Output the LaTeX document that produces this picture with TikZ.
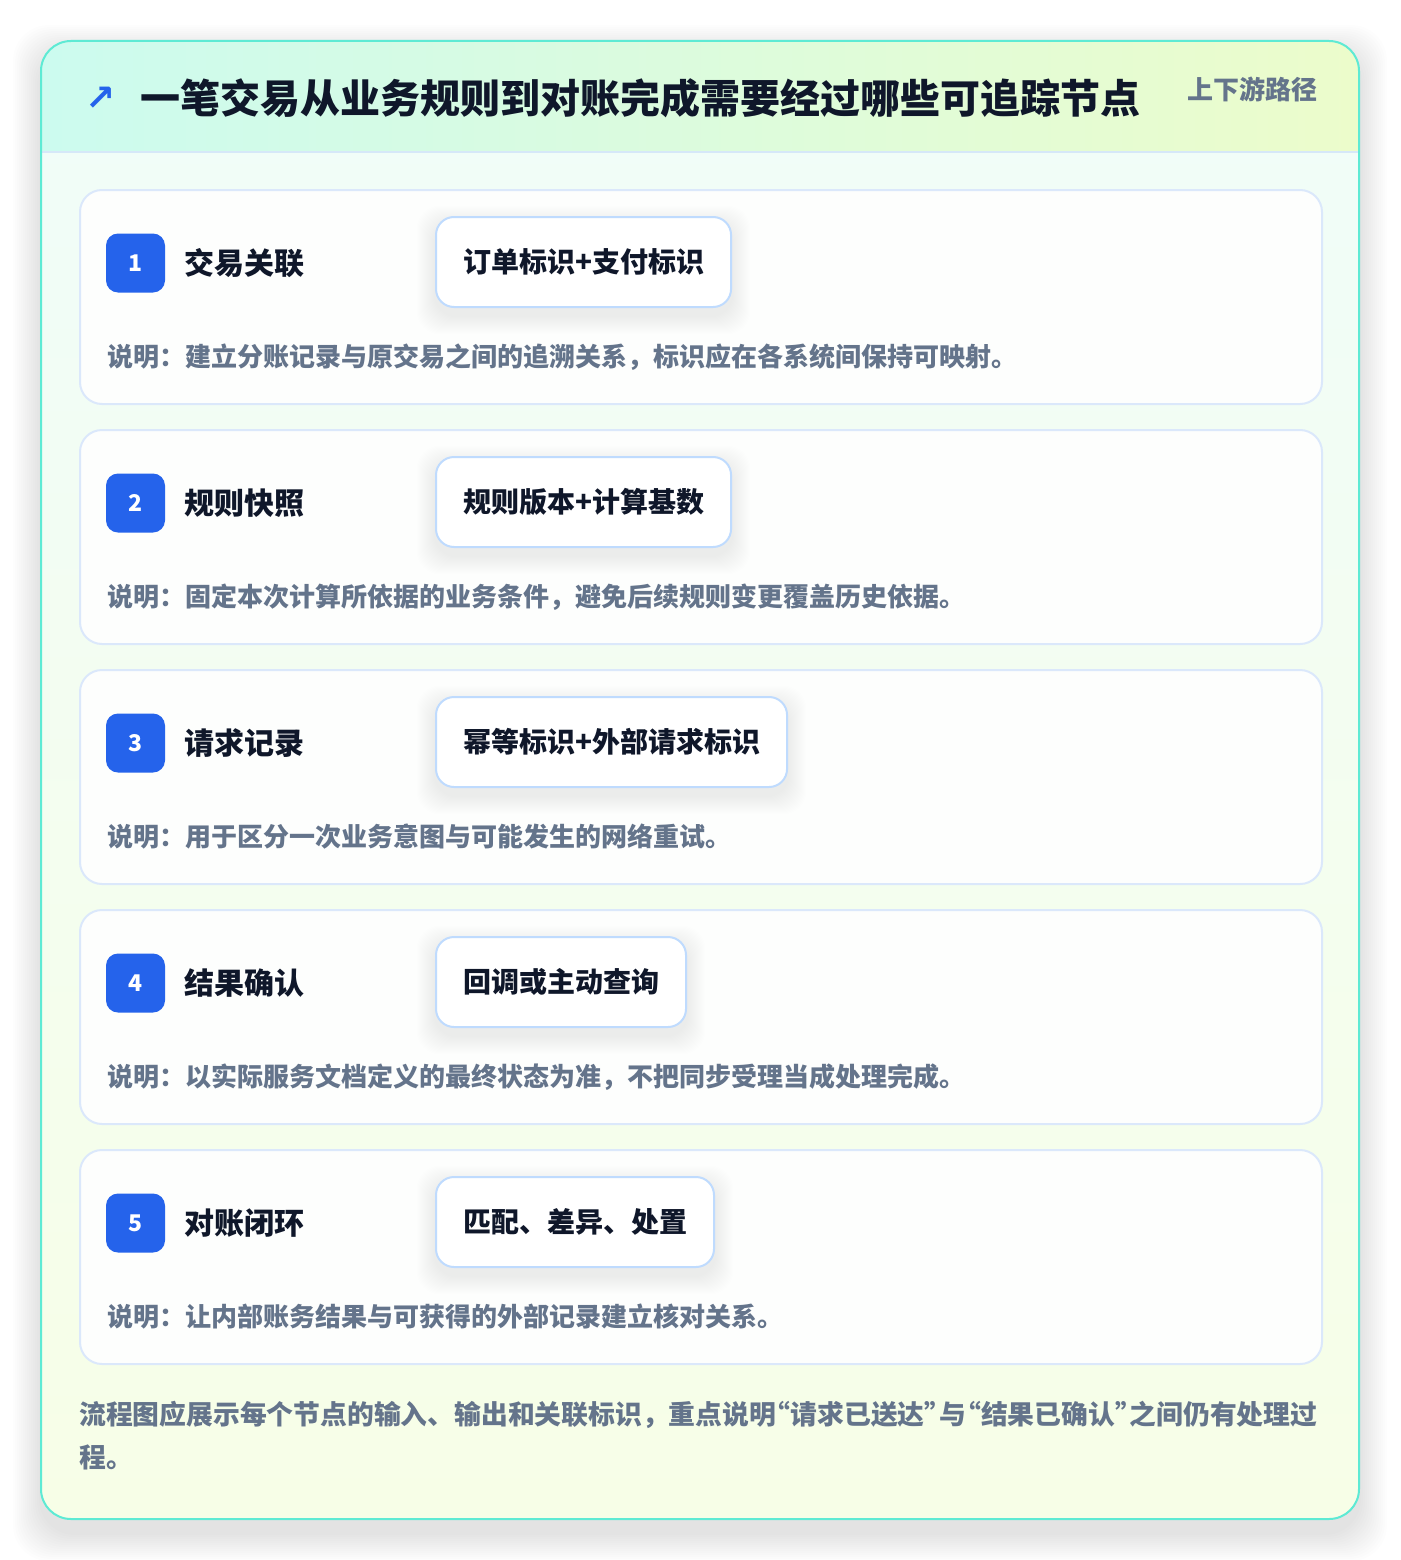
\documentclass[tikz,border=0pt]{standalone}
\usepackage{fontspec}
\setmainfont{Noto Sans CJK SC}
\newfontfamily\symfont{DejaVu Sans}
\usetikzlibrary{positioning}

\definecolor{panelline}{HTML}{5EEAD4}
\definecolor{hdrleft}{HTML}{CCFBEF}
\definecolor{hdrright}{HTML}{ECFCCB}
\definecolor{hdrline}{HTML}{D6E8F8}
\definecolor{bodytop}{HTML}{F0FDF9}
\definecolor{bodybottom}{HTML}{F7FEE7}
\definecolor{cardfill}{HTML}{FDFEFD}
\definecolor{cardline}{HTML}{DBE8FB}
\definecolor{tagline}{HTML}{BFDBFE}
\definecolor{badgeblue}{HTML}{2563EB}
\definecolor{ink}{HTML}{0F172A}
\definecolor{muted}{HTML}{64748B}

% narrow quotes
\newcommand\oq{\kern-.45em“}
\newcommand\cq{”\kern-.45em}

\pgfdeclarelayer{back}
\pgfdeclarelayer{cardlayer}
\pgfdeclarelayer{shadowlayer}
\pgfsetlayers{back,cardlayer,shadowlayer,main}

\tikzset{
  card/.style={draw=cardline, line width=2pt, fill=cardfill, rounded corners=22pt,
    minimum width=1242pt, minimum height=214pt, inner sep=0pt},
  badge/.style={fill=badgeblue, rounded corners=12pt, minimum size=59pt, inner sep=0pt,
    text=white, font=\bfseries\fontsize{23}{23}\selectfont},
  stepname/.style={inner sep=0pt, text=ink, font=\bfseries\fontsize{30}{30}\selectfont},
  tagbox/.style={draw=tagline, line width=2pt, fill=white, rounded corners=18pt,
    minimum height=90pt, inner xsep=27pt, text=ink,
    font=\bfseries\fontsize{28}{28}\selectfont},
  softshade/.style={fill=black, fill opacity=0.0035, rounded corners=22pt},
  note/.style={inner sep=0pt, text=muted, font=\bfseries\fontsize{26}{26}\selectfont},
  footnote/.style={inner sep=0pt, text=muted, font=\bfseries\fontsize{26.8}{26.8}\selectfont},
}

\begin{document}
\begin{tikzpicture}[x=1pt,y=-1pt]
  \useasboundingbox (0,0) rectangle (1400,1560);

  \begin{pgfonlayer}{back}
    \fill[white] (0,0) rectangle (1400,1560);
    % soft shadow of the panel
    \foreach \s in {2,4,...,28}
      \fill[black, fill opacity=0.006, rounded corners=36pt] (41-\s,53-\s) rectangle (1359+\s,1533+\s);
    % panel
    \begin{scope}
      \clip[rounded corners=30pt] (41,41) rectangle (1359,1519);
      \shade[top color=bodytop, bottom color=bodybottom] (41,41) rectangle (1359,1519);
      \shade[left color=hdrleft, right color=hdrright] (41,41) rectangle (1359,152);
    \end{scope}
    \draw[hdrline, line width=1.5pt] (42,152) -- (1358,152);
    \draw[panelline, line width=2pt, rounded corners=30pt] (41,41) rectangle (1359,1519);
  \end{pgfonlayer}

  % header
  \node[anchor=west, inner sep=0pt, text=badgeblue, font=\symfont\bfseries\fontsize{36}{36}\selectfont] (icon) at (85,99) {↗};
  \node[anchor=west, inner sep=0pt, text=ink, font=\bfseries\fontsize{40}{40}\selectfont] (heading) at (140,98)
    {一笔交易从业务规则到对账完成需要经过哪些可追踪节点};
  \node[anchor=east, inner sep=0pt, text=muted, font=\bfseries\fontsize{26}{26}\selectfont] (pathtag) at (1318,89) {上下游路径};

  % steps
  \foreach \i/\name/\tag/\note in {
    1/交易关联/订单标识+支付标识/说明：建立分账记录与原交易之间的追溯关系，标识应在各系统间保持可映射。,
    2/规则快照/规则版本+计算基数/说明：固定本次计算所依据的业务条件，避免后续规则变更覆盖历史依据。,
    3/请求记录/幂等标识+外部请求标识/说明：用于区分一次业务意图与可能发生的网络重试。,
    4/结果确认/回调或主动查询/说明：以实际服务文档定义的最终状态为准，不把同步受理当成处理完成。,
    5/对账闭环/匹配、差异、处置/说明：让内部账务结果与可获得的外部记录建立核对关系。} {
    \pgfmathsetmacro\top{189+240*(\i-1)}
    \begin{pgfonlayer}{cardlayer}
      \node[card, anchor=north west] (card\i) at (79,\top) {};
    \end{pgfonlayer}
    \node[badge] (badge\i) at (135.5,\top+74) {\i};
    \node[stepname, right=19pt of badge\i] (name\i) {\name};
    \node[tagbox, anchor=west] (tag\i) at (435,\top+73) {\tag};
    \begin{pgfonlayer}{shadowlayer}
      \foreach \s in {1,...,18}
        \fill[softshade] ([shift={(-\s,8-\s)}]tag\i.north west) rectangle ([shift={(\s,8+\s)}]tag\i.south east);
    \end{pgfonlayer}
    \node[note, anchor=west] (note\i) at (107,\top+168) {\note};
  }

  % footer
  \node[footnote, anchor=west] (foot1) at (79,1415)
    {流程图应展示每个节点的输入、输出和关联标识，重点说明\oq 请求已送达\cq 与\oq 结果已确认\cq 之间仍有处理过};
  \node[footnote, anchor=west] (foot2) at (79,1457) {程。};
\end{tikzpicture}
\end{document}
